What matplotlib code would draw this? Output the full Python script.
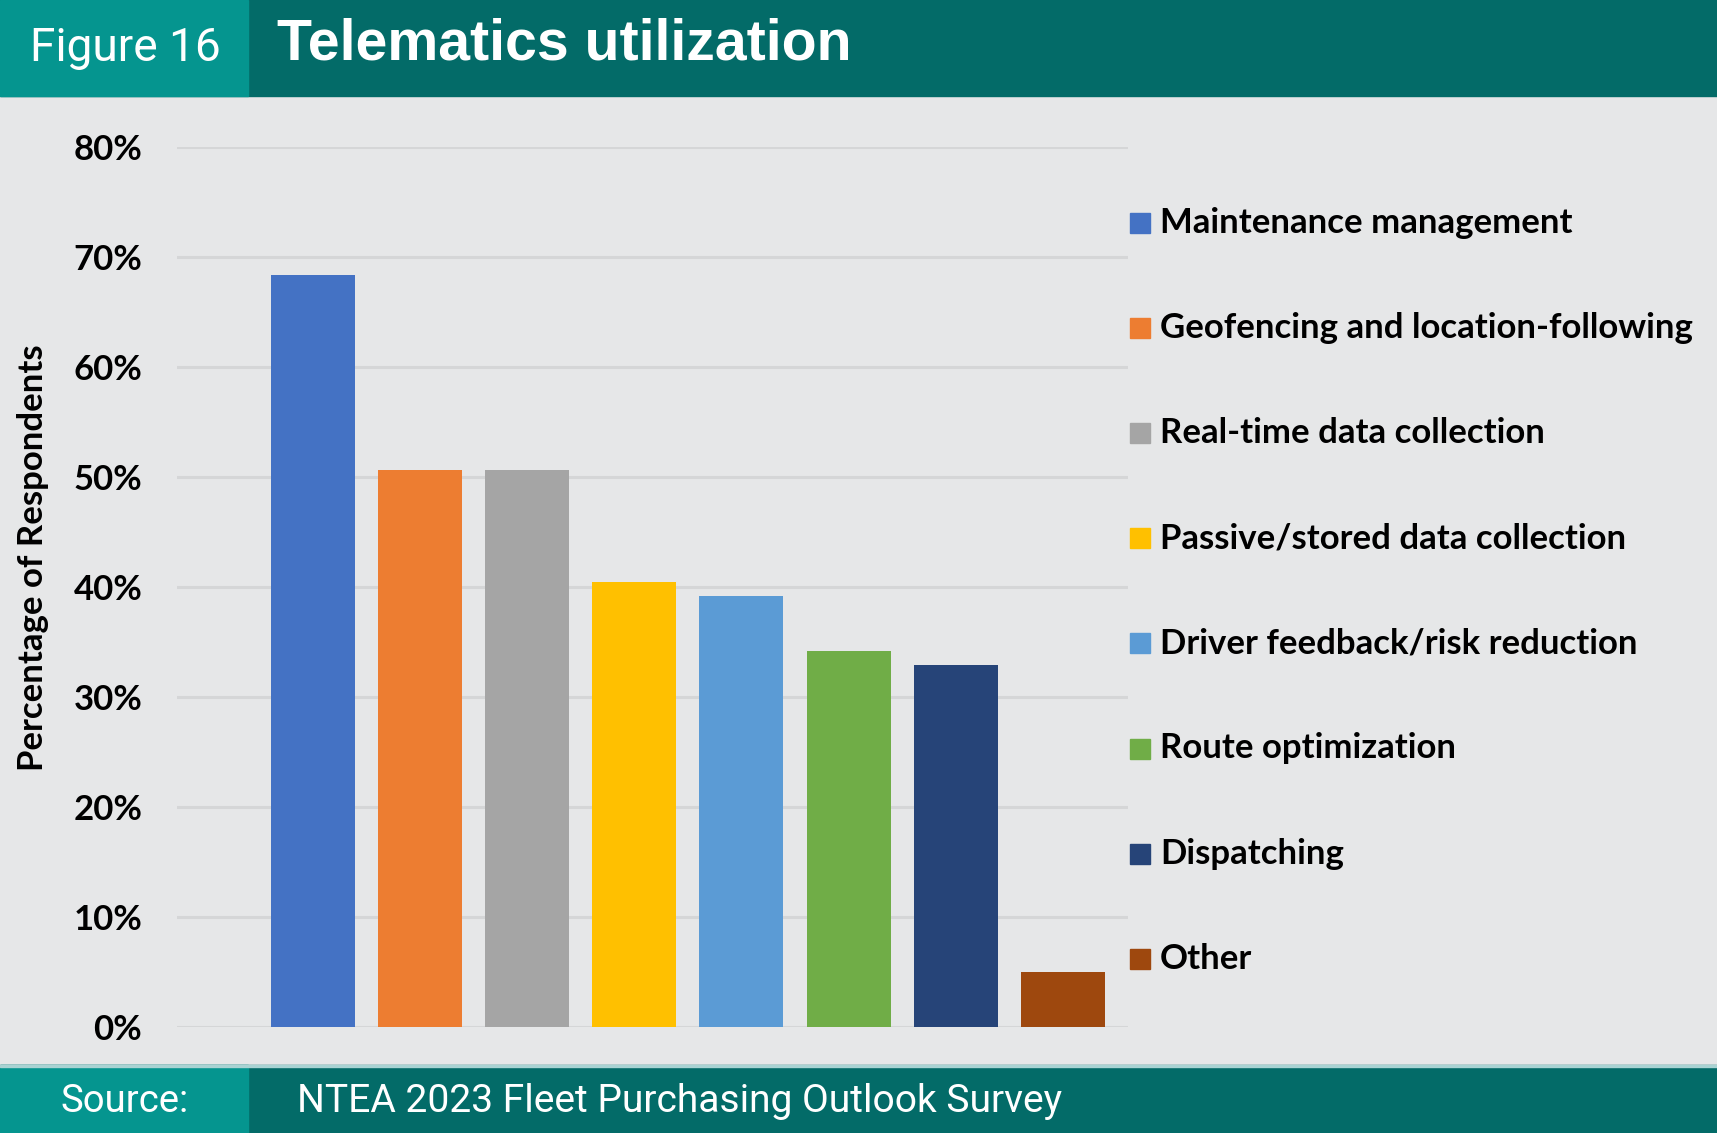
import matplotlib
matplotlib.use('Agg')
import matplotlib.pyplot as plt
from matplotlib.patches import Rectangle

categories = ['Maintenance management', 'Geofencing and location-following',
              'Real-time data collection', 'Passive/stored data collection',
              'Driver feedback/risk reduction', 'Route optimization',
              'Dispatching', 'Other']
values = [68.4, 50.6, 50.6, 40.5, 39.2, 34.2, 32.9, 5.0]
colors = ['#4472C4', '#ED7D31', '#A5A5A5', '#FFC000',
          '#5B9BD5', '#70AD47', '#264478', '#9E480E']
yticks = [0, 10, 20, 30, 40, 50, 60, 70, 80]

W, H = 1717, 1133
BG = '#E6E7E8'
DARK = '#036B68'
LIGHT = '#05958F'
BODY = ['Lato', 'DejaVu Sans']
NARROW = ['Liberation Sans Narrow', 'Roboto', 'DejaVu Sans']

fig = plt.figure(figsize=(W / 100, H / 100), dpi=100)
fig.patch.set_facecolor(BG)


def fx(px):
    return px / W


def fy(py):
    return 1 - py / H


def fit(t, width_px):
    r = fig.canvas.get_renderer()
    w = t.get_window_extent(r).width
    t.set_fontsize(t.get_fontsize() * width_px / w)


# header and footer bands
fig.patches.append(Rectangle((0, fy(96)), 1, 96 / H, transform=fig.transFigure, color=DARK, zorder=0))
fig.patches.append(Rectangle((0, fy(96)), fx(248), 96 / H, transform=fig.transFigure, color=LIGHT, zorder=1))
fig.patches.append(Rectangle((0, 0), 1, 68 / H, transform=fig.transFigure, color=DARK, zorder=0))
fig.patches.append(Rectangle((0, 0), fx(248), 68 / H, transform=fig.transFigure, color=LIGHT, zorder=1))
fig.patches.append(Rectangle((0, fy(1067)), 1, 2 / H, transform=fig.transFigure, color='#A9D3D3', zorder=1))

t1 = fig.text(fx(30), fy(48), 'Figure 16', color='white', fontsize=30, family=NARROW, va='center')
t2 = fig.text(fx(277), fy(44), 'Telematics utilization', color='white', fontsize=36,
              family=['Liberation Sans', 'DejaVu Sans'], weight='bold', va='center')
t3 = fig.text(fx(60), fy(1101), 'Source:', color='white', fontsize=28, family=NARROW, va='center')
t4 = fig.text(fx(297), fy(1101), 'NTEA 2023 Fleet Purchasing Outlook Survey', color='white',
              fontsize=28, family=NARROW, va='center')
fit(t1, 191)
fit(t2, 575)
fit(t3, 128)
fit(t4, 765)

# chart
ax = fig.add_axes([fx(177), 1 - 1027 / H, fx(1128) - fx(177), (1027 - 147) / H])
ax.set_facecolor(BG)
x = list(range(len(values)))
ax.bar(x, values, width=0.784, color=colors, zorder=3)
ax.set_xlim(-1.266, 7.606)
ax.set_ylim(0, 80)
ax.set_yticks(yticks)
ax.set_yticklabels([f'{v}%' for v in yticks], family=BODY, weight='bold', fontsize=25)
ax.set_xticks([])
ax.grid(axis='y', color='#D5D6D7', linewidth=2.2, zorder=0)
for s in ax.spines.values():
    s.set_visible(False)
ax.tick_params(axis='y', length=0, pad=25)
fig.text(fx(33), fy(558), 'Percentage of Respondents', rotation=90, family=BODY, weight='bold',
         fontsize=25, va='center', ha='center')

# legend
for i, (lab, c) in enumerate(zip(categories, colors)):
    yc = 223 + i * 105.1
    fig.patches.append(Rectangle((fx(1130), fy(yc + 10)), fx(20), 20 / H,
                                 transform=fig.transFigure, color=c))
    fig.text(fx(1160), fy(yc), lab, family=BODY, weight='bold', fontsize=25, va='center')

fig.savefig('out.png', dpi=100, facecolor=BG)
